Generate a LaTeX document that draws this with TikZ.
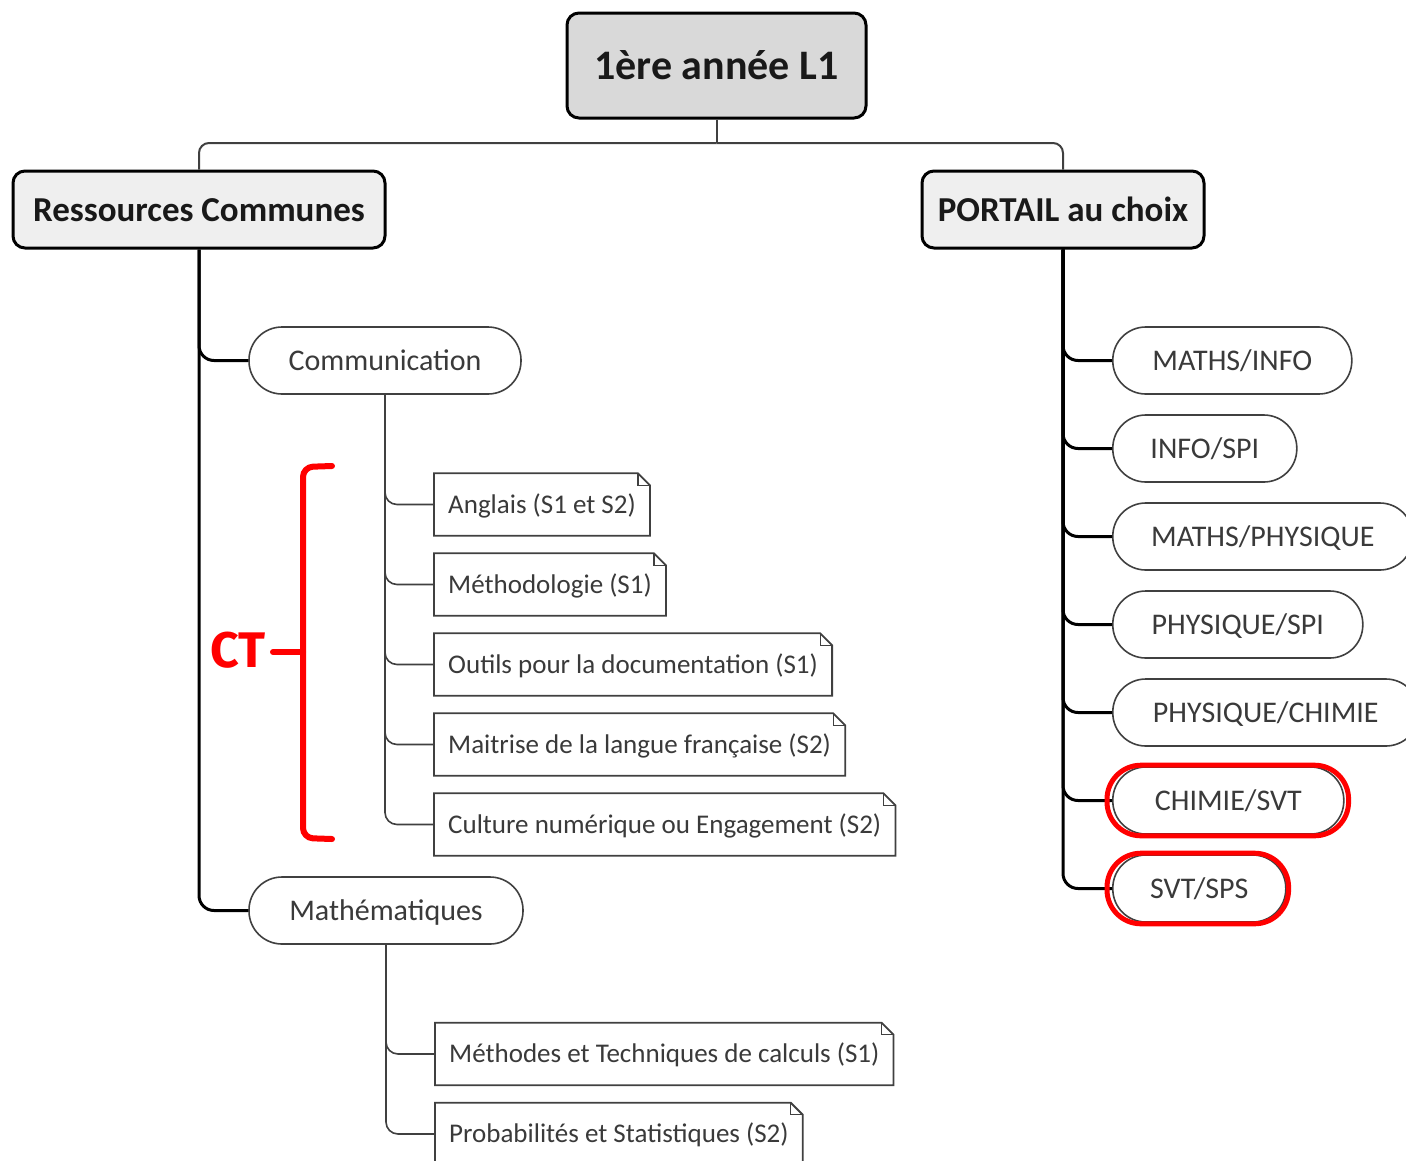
\documentclass[tikz,border=0pt]{standalone}
\usepackage{fontspec}
\setmainfont{Carlito}
\newfontfamily\ctfont{Fira Sans}
\definecolor{txt}{HTML}{3A3A3A}
\definecolor{ln}{HTML}{404040}
\definecolor{topfill}{HTML}{D9D9D9}
\definecolor{headfill}{HTML}{EFEFEF}
\tikzset{
  head/.style={draw=black, line width=3pt, rounded corners=12pt, text=black!90,
    font=\fontsize{35}{40}\selectfont\bfseries, inner sep=0pt, fill=headfill,
    text height=27pt, text depth=4pt},
  pill/.style={draw=ln, line width=1.6pt, rounded corners=33pt, minimum height=67pt,
    inner sep=0pt, font=\fontsize{30}{36}\selectfont, text=txt, fill=white,
    text height=24pt, text depth=4pt},
  notenode/.style={minimum height=62pt, inner xsep=14pt, inner ysep=0pt,
    font=\fontsize{27}{32}\selectfont, text=txt, anchor=west,
    text height=21pt, text depth=4pt},
  notebox/.style={draw=ln, line width=1.8pt},
  trunk/.style={line width=3pt, black, rounded corners=15pt},
  twig/.style={line width=1.6pt, ln, rounded corners=12pt},
  topline/.style={line width=2pt, ln, rounded corners=10pt},
  redmark/.style={red, line width=5pt},
}
\newcommand\notepath[1]{%
  \draw[notebox] (#1.south west) -- (#1.north west) -- ([xshift=-12pt]#1.north east)
    -- ([yshift=-12pt]#1.north east) -- (#1.south east) -- cycle;
  \draw[notebox, line width=1.2pt] ([xshift=-12pt]#1.north east) |- ([yshift=-12pt]#1.north east);}
\begin{document}
\begin{tikzpicture}[x=1pt,y=-1pt]
\useasboundingbox (0,0) rectangle (1406,1160);
\clip (0,0) rectangle (1406,1160);
\fill[white] (0,0) rectangle (1406,1160);

% headers
\node[head, fill=topfill, minimum width=299pt, minimum height=105pt,
  font=\fontsize{42}{48}\selectfont\bfseries, text height=32pt, text depth=5pt] (top) at (716.5,65.5) {1ère année L1};
\node[head, minimum width=372pt, minimum height=77pt] (rc) at (199,209.5) {Ressources Communes};
\node[head, minimum width=282pt, minimum height=77pt] (port) at (1063,209.5) {PORTAIL au choix};

\coordinate (j) at (716.5,143);
\draw[topline] (top.south) -- (j);
\draw[topline] (j) -| (rc.north);
\draw[topline] (j) -| (port.north);

% left branch
\node[pill, minimum width=272pt] (comm) at (385,360.5) {Communication};
\node[pill, minimum width=274pt] (math) at (386,910.5) {Mathématiques};
\draw[trunk] (rc.south) |- (comm.west);
\draw[trunk] (rc.south) |- (math.west);

\node[notenode] (n1) at (434,504.5) {Anglais (S1 et S2)};
\node[notenode] (n2) at (434,584.5) {Méthodologie (S1)};
\node[notenode] (n3) at (434,664.5) {Outils pour la documentation (S1)};
\node[notenode] (n4) at (434,744.5) {Maitrise de la langue française (S2)};
\node[notenode] (n5) at (434,824.5) {Culture numérique ou Engagement (S2)};
\foreach \n in {n1,n2,n3,n4,n5} {\notepath{\n}; \draw[twig] (comm.south) |- (\n.west);}

\node[notenode] (m1) at (435,1054) {Méthodes et Techniques de calculs (S1)};
\node[notenode] (m2) at (435,1134) {Probabilités et Statistiques (S2)};
\foreach \n in {m1,m2} {\notepath{\n}; \draw[twig] (math.south) |- (\n.west);}

% right branch
\node[pill, minimum width=239pt, anchor=west] (p1) at (1112,360.5) {MATHS/INFO};
\node[pill, minimum width=184pt, anchor=west] (p2) at (1112,448.5) {INFO/SPI};
\node[pill, minimum width=300pt, anchor=west] (p3) at (1112,536.5) {MATHS/PHYSIQUE};
\node[pill, minimum width=250pt, anchor=west] (p4) at (1112,624.5) {PHYSIQUE/SPI};
\node[pill, minimum width=306pt, anchor=west] (p5) at (1112,712.5) {PHYSIQUE/CHIMIE};
\node[pill, minimum width=231pt, anchor=west] (p6) at (1112,800.5) {CHIMIE/SVT};
\node[pill, minimum width=173pt, anchor=west] (p7) at (1112,888.5) {SVT/SPS};
\foreach \n in {p1,p2,p3,p4,p5,p6,p7} {\draw[trunk] (port.south) |- (\n.west);}

% red marks
\draw[redmark, rounded corners=34pt] ([xshift=-5pt,yshift=-1pt]p6.south west) rectangle ([xshift=4pt,yshift=1pt]p6.north east);
\draw[redmark, rounded corners=34pt] ([xshift=-5pt,yshift=-1pt]p7.south west) rectangle ([xshift=2pt,yshift=1pt]p7.north east);

\node[text=red, font=\ctfont\bfseries\fontsize{50}{55}\selectfont, inner sep=0pt] (ct) at (238,650) {CT};
\draw[red, line width=6pt, line cap=round, rounded corners=10pt] (332,466) -- (303,467) -- (303,838) -- (332,839);
\draw[red, line width=6pt, line cap=round] (273,652) -- (303,652);
\end{tikzpicture}
\end{document}
